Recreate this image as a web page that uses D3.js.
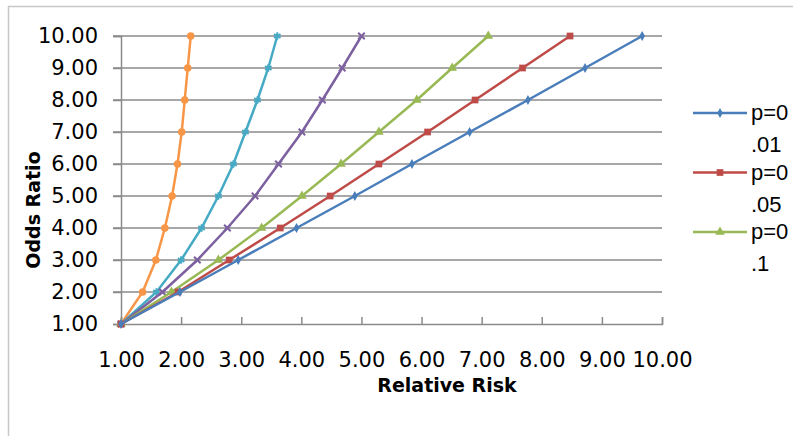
<!DOCTYPE html>
<html>
<head>
<meta charset="utf-8">
<script src="https://cdn.jsdelivr.net/npm/d3@7"></script>
<style>
  body { margin: 0; background: #fff; }
  text { font-family: "DejaVu Sans", sans-serif; fill: #000; }
</style>
</head>
<body>
<script>
const oddsRatio = [1, 2, 3, 4, 5, 6, 7, 8, 9, 10];

// relative risk, one list per series
const rrP001 = [1, 1.98, 2.95, 3.92, 4.89, 5.84, 6.80, 7.77, 8.72, 9.67];
const rrP005 = [1, 1.95, 2.80, 3.65, 4.48, 5.29, 6.10, 6.89, 7.68, 8.47];
const rrP01  = [1, 1.84, 2.62, 3.34, 4.01, 4.66, 5.29, 5.92, 6.51, 7.11];
const rrPurple = [1, 1.69, 2.27, 2.77, 3.23, 3.62, 4.01, 4.35, 4.68, 5.00];
const rrTeal   = [1, 1.59, 2.00, 2.34, 2.62, 2.87, 3.07, 3.27, 3.45, 3.60];
const rrOrange = [1, 1.36, 1.58, 1.73, 1.85, 1.94, 2.01, 2.06, 2.11, 2.16];

const seriesNames = ["p=0.01", "p=0.05", "p=0.1", "s4", "s5", "s6"];
const legendNames = ["p=0.01", "p=0.05", "p=0.1"];
const tickValues = [1, 2, 3, 4, 5, 6, 7, 8, 9, 10];

const colors = ["#4a7ebb", "#be4b48", "#98b954", "#7d60a0", "#46aac5", "#f79646"];
const symbols = [d3.symbolDiamond, d3.symbolSquare, d3.symbolTriangle, d3.symbolX, d3.symbolAsterisk, d3.symbolCircle];
const symSizes = [28, 45, 40, 30, 40, 45];
const stroked = [false, false, false, true, true, false];

const series = [rrP001, rrP005, rrP01, rrPurple, rrTeal, rrOrange].map((xs, i) => ({
  name: seriesNames[i],
  color: colors[i],
  points: xs.map((x, j) => ({x: x, y: oddsRatio[j]}))
}));

const width = 793, height = 436;
const svg = d3.select("body").append("svg")
  .attr("width", width)
  .attr("height", height);

// chart border (cut at right/bottom)
svg.append("path")
  .attr("d", "M8.5," + height + "V6.5H" + width)
  .attr("fill", "none")
  .attr("stroke", "#c8c8c8")
  .attr("stroke-width", 1.5);

const xScale = d3.scaleLinear().domain([1, 10]).range([121, 662]);
const yScale = d3.scaleLinear().domain([1, 10]).range([324, 36]);

// horizontal grid lines
svg.append("g")
  .selectAll("line")
  .data(tickValues.slice(1))
  .enter()
  .append("line")
  .attr("x1", 113)
  .attr("x2", xScale(10))
  .attr("y1", d => yScale(d))
  .attr("y2", d => yScale(d))
  .attr("stroke", "#8a8a8a")
  .attr("stroke-width", 1.5);

// y axis
const yAxis = d3.axisLeft(yScale).tickValues(tickValues).tickFormat(d3.format(".2f"))
  .tickSize(8).tickPadding(15);
const yG = svg.append("g")
  .attr("transform", "translate(" + xScale(1) + ",0)")
  .call(yAxis);

// x axis
const xAxis = d3.axisBottom(xScale).tickValues(tickValues).tickFormat(d3.format(".2f"))
  .tickSize(-7).tickPadding(36);
const xG = svg.append("g")
  .attr("transform", "translate(0," + yScale(1) + ")")
  .call(xAxis);

[yG, xG].forEach(g => {
  g.select(".domain").attr("stroke", "#8a8a8a").attr("stroke-width", 1.5);
  g.selectAll(".tick line").attr("stroke", "#8a8a8a").attr("stroke-width", 1.5);
  g.selectAll(".tick text")
    .style("font-family", "DejaVu Sans")
    .style("font-size", "21px")
    .attr("fill", "#000");
});
xG.selectAll(".tick text").attr("dy", "0.32em");

// titles
svg.append("text")
  .attr("x", 447)
  .attr("y", 392)
  .attr("text-anchor", "middle")
  .style("font-size", "19px")
  .style("font-weight", "bold")
  .text("Relative Risk");

svg.append("text")
  .attr("transform", "translate(40,210) rotate(-90)")
  .attr("text-anchor", "middle")
  .style("font-size", "19px")
  .style("font-weight", "bold")
  .text("Odds Ratio");

// lines + markers
const line = d3.line().x(d => xScale(d.x)).y(d => yScale(d.y));

series.slice().reverse().forEach((s) => {
  const i = series.indexOf(s);
  svg.append("path")
    .datum(s.points)
    .attr("d", line)
    .attr("fill", "none")
    .attr("stroke", s.color)
    .attr("stroke-width", 2.5);

  svg.append("g")
    .selectAll("path")
    .data(s.points)
    .enter()
    .append("path")
    .attr("transform", d => "translate(" + xScale(d.x) + "," + yScale(d.y) + ")")
    .attr("d", d3.symbol().type(symbols[i]).size(symSizes[i]))
    .attr("fill", stroked[i] ? "none" : s.color)
    .attr("stroke", s.color)
    .attr("stroke-width", stroked[i] ? 2 : 0);
});

// legend (only first three entries visible, text wraps)
const legend = svg.append("g");
legendNames.forEach((name, i) => {
  const y = 113 + i * 59.5;
  const g = legend.append("g").attr("transform", "translate(0," + y + ")");
  g.append("line")
    .attr("x1", 693).attr("x2", 747)
    .attr("stroke", colors[i])
    .attr("stroke-width", 2.5);
  g.append("path")
    .attr("transform", "translate(720,0)")
    .attr("d", d3.symbol().type(symbols[i]).size(symSizes[i]))
    .attr("fill", colors[i]);
  const parts = [name.slice(0, 3), name.slice(3)];
  parts.forEach((t, k) => {
    g.append("text")
      .attr("x", 751)
      .attr("y", 7 + k * 32)
      .style("font-family", "Liberation Sans")
      .style("font-size", "22px")
      .text(t);
  });
});
</script>
</body>
</html>
